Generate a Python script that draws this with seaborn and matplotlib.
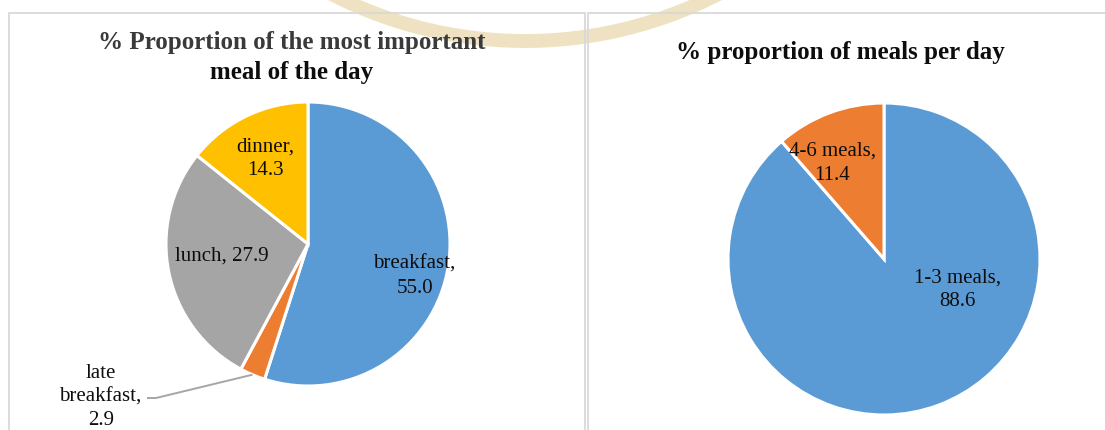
import numpy as np
import matplotlib
matplotlib.use("Agg")
import matplotlib.pyplot as plt
from matplotlib.patches import Rectangle, Arc
import seaborn as sns

# ---- data ----
meal_labels = ["breakfast", "late breakfast", "lunch", "dinner"]
meal_values = [55.0, 2.9, 27.9, 14.3]
count_labels = ["1-3 meals", "4-6 meals"]
count_values = [88.6, 11.4]

left_title = ["% Proportion of the most important", "meal of the day"]
right_title = "% proportion of meals per day"

# ---- style ----
sns.set_theme(style="white")
plt.rcParams["font.family"] = ["Liberation Serif", "DejaVu Serif"]

office = {"blue": "#5B9BD5", "orange": "#ED7D31", "gray": "#A5A5A5", "yellow": "#FFC000"}
meal_colors = [office["blue"], office["orange"], office["gray"], office["yellow"]]
count_colors = [office["blue"], office["orange"]]

W, H = 1105, 431
fig = plt.figure(figsize=(W / 100, H / 100), dpi=100)
fig.patch.set_facecolor("white")
ax = fig.add_axes([0, 0, 1, 1])
ax.set_xlim(0, W)
ax.set_ylim(0, H)
ax.set_aspect("equal")
ax.axis("off")


def Y(y_down):
    """Convert a top-down pixel row to the axis' bottom-up coordinate."""
    return H - y_down


# faint emblem arc across the top
ax.add_patch(Arc((525, Y(-380)), 2 * 422, 2 * 422, theta1=235, theta2=305,
                 color="#E9D6A8", lw=10, alpha=0.7, zorder=0))

# panel frames
frame_kw = dict(fill=False, edgecolor="#D9D9D9", lw=1.3, zorder=1, clip_on=False)
ax.add_patch(Rectangle((9, Y(440)), 576, 426, **frame_kw))
ax.add_patch(Rectangle((588, Y(440)), 540, 426, **frame_kw))

wedge_kw = dict(edgecolor="white", linewidth=2.2)
label_kw = dict(fontsize=15, color="#0D0D0D", ha="center", va="center",
                linespacing=1.33, zorder=5)

# ---- left pie: most important meal ----
lc, lr = (308, Y(245)), 142
wedges_l, _ = ax.pie(meal_values, colors=meal_colors, startangle=90,
                     counterclock=False, center=lc, radius=lr,
                     wedgeprops=wedge_kw, frame=True)
left_offsets = [(0.75, -0.22), (-1.46, -1.07), (-0.61, -0.08), (-0.30, 0.61)]
left_texts = [f"{meal_labels[0]},\n{meal_values[0]:.1f}",
              f"late\nbreakfast,\n{meal_values[1]:.1f}",
              f"{meal_labels[2]}, {meal_values[2]:.1f}",
              f"{meal_labels[3]},\n{meal_values[3]:.1f}"]
for (dx, dy), txt in zip(left_offsets, left_texts):
    ax.text(lc[0] + dx * lr, lc[1] + dy * lr, txt, **label_kw)

# leader line for the small slice
w = wedges_l[1]
mid = np.deg2rad((w.theta1 + w.theta2) / 2)
edge = (lc[0] + lr * np.cos(mid), lc[1] + lr * np.sin(mid))
ax.plot([147, 156, edge[0]], [Y(399), Y(399), edge[1]], color="#A6A6A6",
        lw=1.4, zorder=4, solid_capstyle="butt")

# ---- right pie: meals per day ----
rc, rr = (884, Y(260)), 156
ax.pie(count_values, colors=count_colors, startangle=90, counterclock=False,
       center=rc, radius=rr, wedgeprops=wedge_kw, frame=True)
right_offsets = [(0.47, -0.19), (-0.33, 0.62)]
for (dx, dy), lab, val in zip(right_offsets, count_labels, count_values):
    ax.text(rc[0] + dx * rr, rc[1] + dy * rr, f"{lab},\n{val:.1f}", **label_kw)

# restore full-figure pixel frame after pie()
ax.set_xlim(0, W)
ax.set_ylim(0, H)
ax.axis("off")

# ---- titles ----
title_kw = dict(fontsize=18, fontweight="bold", ha="center", va="center", zorder=6)
ax.text(292, Y(42), left_title[0], color="#3A3A3A", **title_kw)
ax.text(292, Y(72), left_title[1], color="#0D0D0D", **title_kw)
ax.text(840, Y(52), right_title, color="#0D0D0D", **title_kw)

fig.savefig("out.png", dpi=100, facecolor="white")
